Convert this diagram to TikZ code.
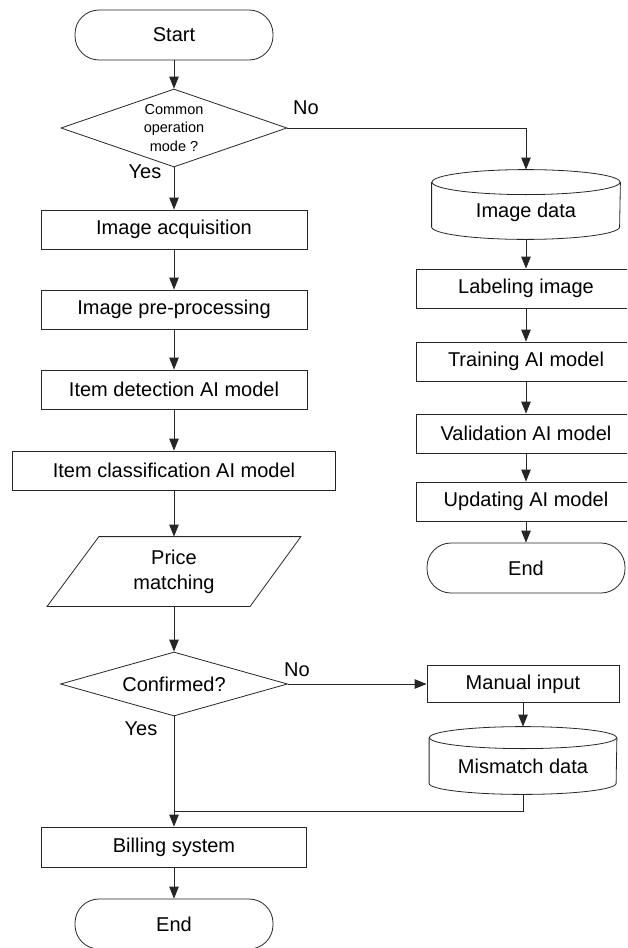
\documentclass[tikz,border=0pt]{standalone}
\usepackage{fontspec}
\setmainfont{Liberation Sans}
\usetikzlibrary{arrows.meta,shapes.geometric,calc}
\newcommand\cylout[3]{%
  \draw[ln] ($(#1.north)+(0,#3)$) ellipse[x radius=#2,y radius=#3];
  \draw[ln] ($(#1.north west)+(0,#3)$) -- ($(#1.south west)+(0,-#3)$)
     arc[start angle=180,end angle=0,x radius=#2,y radius=#3] -- ($(#1.north east)+(0,#3)$);}
\begin{document}
\begin{tikzpicture}[x=1pt,y=-1pt,line width=0.8pt,
  every node/.style={font=\fontsize{20}{24}\selectfont, inner sep=0pt, text=black},
  ln/.style={draw=black!85, line width=0.8pt},
  proc/.style={ln, rectangle, minimum height=39pt},
  term/.style={ln, rectangle, rounded corners=24pt, minimum width=198pt, minimum height=50pt},
  dec/.style={ln, diamond, inner sep=0pt},
  cyl/.style={rectangle, draw=none},
  plainbox/.style={rectangle, draw=none},
  arr/.style={-{Triangle[length=12pt,width=9.5pt]}}
]
\useasboundingbox (0,0) rectangle (627,948);
\clip (0,0) rectangle (627,948);

% left column
\node[term] (start) at (174,35) {Start};
\node[dec, minimum width=226pt, minimum height=78pt, aspect=2.9,
      font=\fontsize{14.5}{18.5}\selectfont, align=center] (mode) at (174,128) {Common\\operation\\mode ?};
\node[proc, minimum width=266pt] (acq) at (174,229.5) {Image acquisition};
\node[proc, minimum width=266pt] (pre) at (174,309.5) {Image pre-processing};
\node[proc, minimum width=266pt] (det) at (174,389.5) {Item detection AI model};
\node[proc, minimum width=323pt] (cls) at (174,470.5) {Item classification AI model};
\node[plainbox, minimum width=253pt, minimum height=69pt, align=center,
      font=\fontsize{20}{25}\selectfont] (price) at (174,571.5) {Price\\matching};
\draw[ln] (price.south west) -- ++(203,0) -- (price.north east) -- ++(-202,0) -- cycle;
\node[dec, minimum width=227pt, minimum height=64pt, aspect=3.5] (conf) at (174,684) {Confirmed?};
\node[proc, minimum width=265pt, minimum height=40pt] (bill) at (174,847) {Billing system};
\node[term] (end1) at (174,924) {End};

% right column
\node[cyl, minimum width=188pt, minimum height=69pt,
      label={[yshift=-7.5pt]center:Image data}] (imgdata) at (526,204.5) {};
\cylout{imgdata}{94}{12.5}
\node[proc, minimum width=220pt] (lab) at (526,288.5) {Labeling image};
\node[proc, minimum width=220pt] (train) at (526,361.5) {Training AI model};
\node[proc, minimum width=220pt] (valid) at (526,433.5) {Validation AI model};
\node[proc, minimum width=220pt] (upd) at (526,501.5) {Updating AI model};
\node[term] (end2) at (526,568) {End};

\node[proc, minimum width=192pt, minimum height=37pt] (manual) at (523,684) {Manual input};
\node[cyl, minimum width=187pt, minimum height=67pt,
      label={[yshift=-6pt]center:Mismatch data}] (mis) at (523,760.5) {};
\cylout{mis}{93.5}{11}

% labels
\node (no1) at (306,108) {No};
\node (yes1) at (145,172) {Yes};
\node (no2) at (297,670) {No};
\node (yes2) at (141,729) {Yes};

% connectors
\draw[ln,arr] (start) -- (mode);
\draw[ln,arr] (mode) -- (acq);
\draw[ln,arr] (acq) -- (pre);
\draw[ln,arr] (pre) -- (det);
\draw[ln,arr] (det) -- (cls);
\draw[ln,arr] (cls) -- (price);
\draw[ln,arr] (price) -- (conf);
\draw[ln,arr] (conf.south) -- (bill.north);
\draw[ln,arr] (bill) -- (end1);

\draw[ln,arr] (mode.east) -| (imgdata.north);
\draw[ln,arr] (imgdata) -- (lab);
\draw[ln,arr] (lab) -- (train);
\draw[ln,arr] (train) -- (valid);
\draw[ln,arr] (valid) -- (upd);
\draw[ln,arr] (upd) -- (end2);

\draw[ln,arr] (conf.east) -- (manual.west);
\draw[ln,arr] (manual) -- (mis);
\coordinate (join) at (174,811);
\draw[ln] (mis.south) |- (join);
\end{tikzpicture}
\end{document}
